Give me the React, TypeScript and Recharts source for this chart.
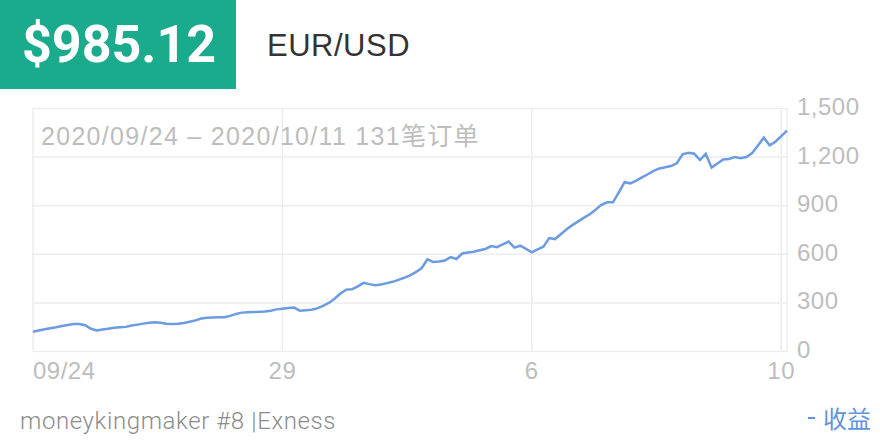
import React from "react";
import { LineChart, Line, XAxis, YAxis, CartesianGrid } from "recharts";

// cumulative profit per order (131 orders)
const profit = [
  122, 130, 137, 144, 150, 157, 164, 170, 170, 162,
  140, 130, 136, 141, 146, 150, 152, 160, 166, 172,
  178, 180, 178, 172, 170, 172, 176, 184, 192, 204,
  208, 210, 212, 211, 220, 232, 240, 243, 244, 245,
  247, 252, 260, 264, 268, 271, 252, 254, 258, 266,
  281, 300, 326, 358, 382, 384, 402, 424, 416, 409,
  414, 422, 430, 442, 455, 470, 490, 514, 569, 552,
  555, 562, 583, 571, 605, 611, 616, 625, 633, 651,
  644, 662, 679, 641, 653, 633, 612, 630, 647, 700,
  694, 724, 754, 780, 803, 826, 847, 875, 905, 921,
  921, 982, 1045, 1038, 1055, 1075, 1094, 1115, 1130, 1137,
  1145, 1162, 1217, 1227, 1221, 1182, 1220, 1135, 1160, 1185,
  1188, 1201, 1193, 1200, 1225, 1272, 1320, 1273, 1295, 1330,
  1363,
];

const xTickIdx = [0, 43, 86, 129];
const xTickLabels = ["09/24", "29", "6", "10"];
const yTicks = [0, 300, 600, 900, 1200, 1500];

const data = profit.map((v, i) => ({ i, profit: v }));

const latin = "'Liberation Sans', Roboto, 'Noto Sans CJK SC', sans-serif";
const grey = "#bdbdbd";
const blue = "#6b9be0";

const XTick = (props: any) => {
  const { x, y, payload, index } = props;
  const k = xTickIdx.indexOf(payload.value);
  return (
    <text
      x={x}
      y={y + 11}
      dominantBaseline="central"
      textAnchor={index === 0 ? "start" : "middle"}
      fill={grey}
      fontSize={24}
      fontFamily={latin}
      letterSpacing={0.5}
    >
      {xTickLabels[k]}
    </text>
  );
};

const YTick = (props: any) => {
  const { x, y, payload } = props;
  return (
    <text
      x={x}
      y={y - 2}
      dominantBaseline="central"
      textAnchor="start"
      fill={grey}
      fontSize={24}
      fontFamily={latin}
      letterSpacing={0.5}
    >
      {payload.value.toLocaleString("en-US")}
    </text>
  );
};

export default function App() {
  return (
    <div style={{ position: "absolute", left: 0, top: 0, width: 880, height: 440, background: "#fff", overflow: "hidden" }}>
      {/* header */}
      <div
        style={{
          position: "absolute", left: 0, top: 0, width: 236, height: 89, background: "#1aaa8c",
          color: "#fff", fontFamily: "Roboto, sans-serif", fontWeight: 700, fontSize: 52,
          lineHeight: "89px", paddingLeft: 22, boxSizing: "border-box",
        }}
      >
        $985.12
      </div>
      <div
        style={{
          position: "absolute", left: 267, top: 26, fontFamily: latin, fontSize: 31,
          color: "#333", lineHeight: "40px", letterSpacing: 0.5,
        }}
      >
        EUR/USD
      </div>

      {/* chart */}
      <div style={{ position: "absolute", left: 0, top: 92, width: 880, height: 300 }}>
        <LineChart width={880} height={300} data={data} margin={{ top: 16.5, right: 13, bottom: 0, left: 33 }}>
          <CartesianGrid stroke="#ededed" strokeWidth={1.5} />
          <XAxis
            dataKey="i"
            type="number"
            domain={[0, 130]}
            ticks={xTickIdx}
            axisLine={false}
            tickLine={false}
            height={40.5}
            tick={<XTick />}
            interval={0}
          />
          <YAxis
            orientation="right"
            domain={[0, 1500]}
            ticks={yTicks}
            axisLine={false}
            tickLine={false}
            width={80}
            tickMargin={4}
            tick={<YTick />}
            interval={0}
          />
          <Line
            type="linear"
            dataKey="profit"
            name="收益"
            stroke={blue}
            strokeWidth={2.5}
            dot={false}
            isAnimationActive={false}
          />
        </LineChart>
      </div>

      {/* subtitle inside plot */}
      <div
        style={{
          position: "absolute", left: 41, top: 120, fontFamily: latin, fontSize: 25,
          color: grey, lineHeight: "32px", letterSpacing: 1.3, whiteSpace: "nowrap",
        }}
      >
        2020/09/24 – 2020/10/11 131笔订单
      </div>

      {/* footer */}
      <div
        style={{
          position: "absolute", left: 20, top: 405, fontFamily: "Roboto, sans-serif", fontWeight: 300,
          fontSize: 24, color: "#8c8c8c", lineHeight: "32px", whiteSpace: "nowrap", letterSpacing: 0.6,
        }}
      >
        moneykingmaker #8 |Exness
      </div>

      {/* legend */}
      <div
        style={{
          position: "absolute", left: 808, top: 402, display: "flex", alignItems: "center",
          fontFamily: "'Noto Sans CJK SC', sans-serif", fontSize: 24, color: "#5f93e0", lineHeight: "32px",
        }}
      >
        <span style={{ display: "inline-block", width: 7, height: 2, background: "#5f93e0", marginRight: 8 }} />
        收益
      </div>
    </div>
  );
}
